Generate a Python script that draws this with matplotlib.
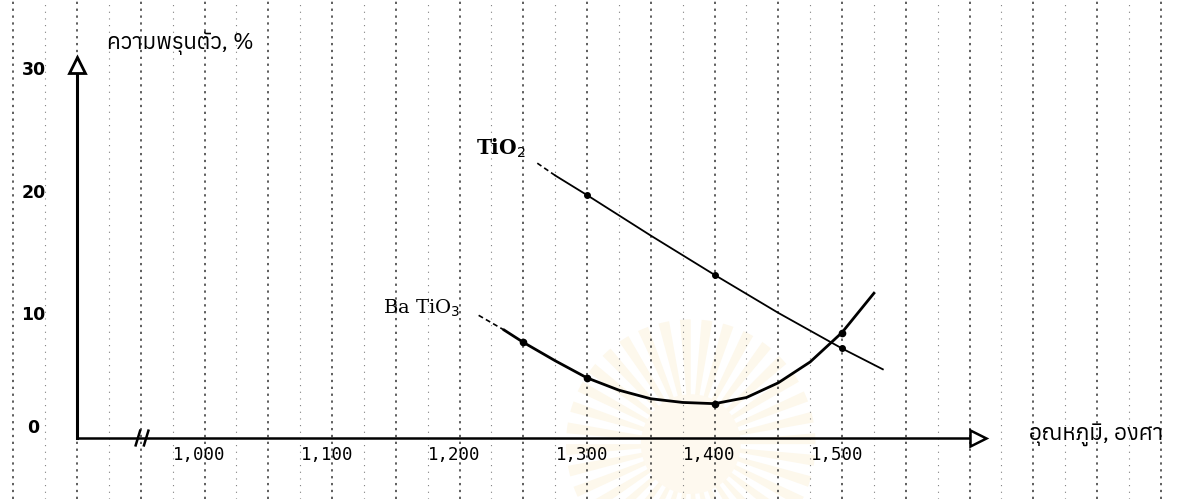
import matplotlib
matplotlib.use('Agg')
import matplotlib.pyplot as plt
import matplotlib.patches as patches
from matplotlib import font_manager
from matplotlib.ft2font import FT2Font

# Pick a font that can draw Thai (first one found), else fall back
thai_fonts = []
for path in font_manager.findSystemFonts():
    try:
        if FT2Font(path).get_char_index(0x0E01):
            thai_fonts.append(font_manager.FontProperties(fname=path).get_name())
    except Exception:
        pass
thai_family = sorted(set(thai_fonts)) + ['DejaVu Sans']

# Data
tio2_temp = [1275, 1300, 1350, 1400, 1450, 1500, 1532]
tio2_pct = [21.4, 19.8, 16.5, 13.3, 10.2, 7.3, 5.6]
tio2_pts_temp = [1300, 1400, 1500]
tio2_pts_pct = [19.8, 13.3, 7.3]

bat_temp = [1235, 1250, 1275, 1300, 1325, 1350, 1375, 1400, 1425, 1450, 1475, 1500, 1525]
bat_pct = [8.8, 7.8, 6.3, 4.9, 3.9, 3.2, 2.9, 2.8, 3.3, 4.5, 6.2, 8.6, 11.8]
bat_pts_temp = [1250, 1300, 1400, 1500]
bat_pts_pct = [7.8, 4.9, 2.8, 8.6]

x_ticks = [1000, 1100, 1200, 1300, 1400, 1500]
x_tick_labels = ['1,000', '1,100', '1,200', '1,300', '1,400', '1,500']
y_ticks = [0, 10, 20, 30]

fig = plt.figure(figsize=(11.91, 4.99), dpi=100)

# faint yellow sunburst watermark from the scanned page
wax = fig.add_axes([0.40, -0.14, 0.36, 0.50])
wax.set_xlim(-1, 1)
wax.set_ylim(-1, 1)
wax.set_aspect('equal')
wax.axis('off')
for i in range(0, 360, 10):
    wax.add_patch(patches.Wedge((0, 0), 1.0, i, i + 5, color='#fdf8ec', lw=0))
wax.add_patch(patches.Circle((0, 0), 0.4, color='#fef9ef', lw=0))

ax = fig.add_axes([0, 0, 1, 1])
ax.patch.set_alpha(0)
ax.set_xlim(839.6, 1773.7)
ax.set_ylim(-4.97, 35.7)
ax.axis('off')

# graph-paper style dotted verticals every 25 degrees
for t in range(850, 1775, 25):
    if t % 50 == 0:
        ax.axvline(t, color='#333333', lw=1.1, ls=(0, (1.5, 3)), zorder=1)
    else:
        ax.axvline(t, color='#808080', lw=0.8, ls=(0, (1, 5)), zorder=1)

# axes drawn by hand like the original sketch
ax.plot([900, 900], [0, 29.8], color='black', lw=2.2, zorder=3)
ax.plot([900, 1600], [0, 0], color='black', lw=1.8, zorder=3)
ax.plot([900], [30.4], marker='^', ms=12, mfc='white', mec='black', mew=2, zorder=4)
ax.plot([1607], [0], marker='>', ms=12, mfc='white', mec='black', mew=1.8, zorder=4)
for t in [946, 952.5]:
    ax.plot([t, t + 3.5], [-0.6, 0.6], color='black', lw=1.8, zorder=4)

# curves
ax.plot(tio2_temp, tio2_pct, color='black', lw=1.3, zorder=5)
ax.plot([1261, 1275], [22.4, 21.4], color='black', lw=1.2, ls=(0, (3, 2)), zorder=5)
ax.plot(tio2_pts_temp, tio2_pts_pct, 'o', color='black', ms=4, zorder=6)

ax.plot(bat_temp, bat_pct, color='black', lw=2.0, zorder=5)
ax.plot([1215, 1235], [10.0, 8.8], color='black', lw=1.2, ls=(0, (3, 2)), zorder=5)
ax.plot(bat_pts_temp, bat_pts_pct, 'o', color='black', ms=4.5, zorder=6)

# tick labels
for t, lab in zip(x_ticks, x_tick_labels):
    ax.text(t - 4, -1.4, lab, ha='center', va='center', fontsize=12.5,
            family='DejaVu Sans Mono', color='black')
for v in y_ticks:
    ax.text(866, v + (0.8 if v == 0 else 0), str(v), ha='center', va='center',
            fontsize=12.5, fontweight='bold', color='black')

# labels
ax.text(923.5, 32.2, 'ความพรุนตัว, %', ha='left', va='center', fontsize=16,
        family=thai_family, fontweight='bold', color='black')
ax.text(1647, 0.3, 'อุณหภูมิ, องศา', ha='left', va='center', fontsize=16,
        family=thai_family, color='black')
ax.text(1213, 23.6, r'TiO$_2$', ha='left', va='center', fontsize=14.5,
        family='DejaVu Serif', fontweight='bold', color='black')
ax.text(1140, 10.6, r'Ba TiO$_3$', ha='left', va='center', fontsize=14,
        family='DejaVu Serif', color='black')

fig.savefig('out.png', dpi=100, facecolor='white')
